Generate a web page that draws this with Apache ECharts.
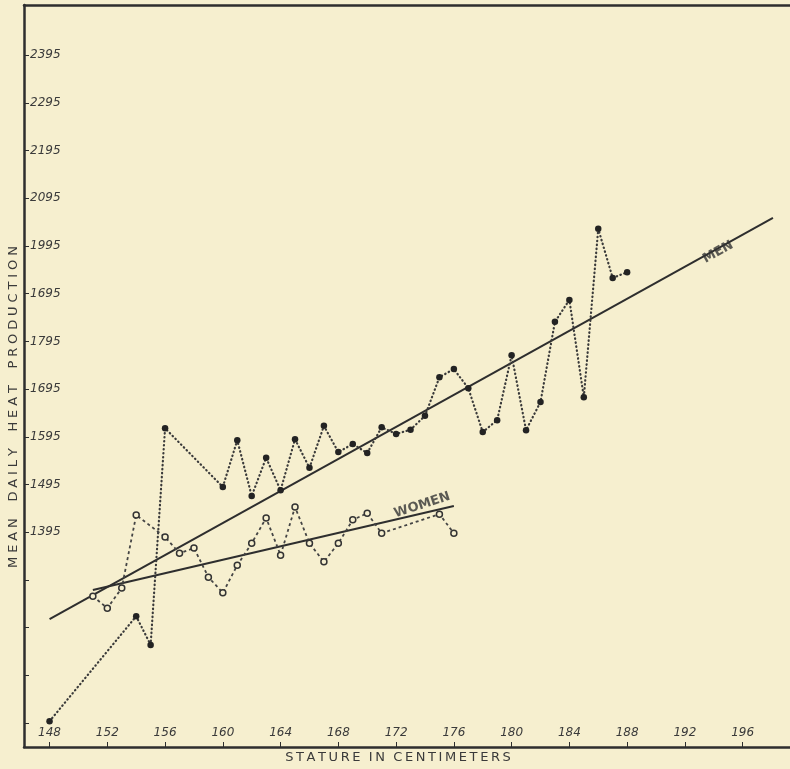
<!DOCTYPE html>
<html>
<head>
<meta charset="utf-8">
<script src="https://cdn.jsdelivr.net/npm/echarts@6/dist/echarts.min.js"></script>
<style>
html,body{margin:0;padding:0;background:#f6efcf;}
#chart{width:790px;height:769px;}
</style>
</head>
<body>
<div id="chart"></div>
<script>
// ---- data ----
const menStature = [148,154,155,156,160,161,162,163,164,165,166,167,168,169,170,171,172,173,174,175,176,177,178,179,180,181,182,183,184,185,186,187,188];
const menHeat    = [999,1219,1159,1613,1490,1588,1471,1551,1483,1590,1530,1618,1563,1580,1561,1615,1601,1610,1639,1720,1737,1697,1605,1630,1766,1609,1668,1836,1882,1678,2031,1928,1940];

const womenStature = [151,152,153,154,156,157,158,159,160,161,162,163,164,165,166,167,168,169,170,171,175,176];
const womenHeat    = [1261,1236,1278,1431,1385,1351,1362,1301,1268,1326,1372,1425,1347,1448,1372,1333,1372,1421,1435,1393,1433,1393];

const menFitStature = [148,198.1];
const menFitHeat    = [1213,2054];
const womenFitStature = [151,176];
const womenFitHeat    = [1274,1450];

const xTickValues = [148,152,156,160,164,168,172,176,180,184,188,192,196];
const yTickValues = [995,1095,1195,1295,1395,1495,1595,1695,1795,1895,1995,2095,2195,2295,2395];
const yLabelValues = [1395,1495,1595,1695,1795,1895,1995,2095,2195,2295,2395];
const yLabelTexts  = ['1395','1495','1595','1695','1795','1695','1995','2095','2195','2295','2395'];

const xTitle = 'STATURE IN CENTIMETERS';
const yTitle = 'MEAN DAILY HEAT PRODUCTION';
const menLabel = 'MEN';
const womenLabel = 'WOMEN';

// ---- helpers ----
const zip = (a, b) => a.map((v, i) => [v, b[i]]);
function spaced(str, gap, wordGap) {
  return str.split(' ').map(w => w.split('').join(gap)).join(wordGap);
}

const ink = '#2e2e2e';
const bg = '#f6efcf';

const chart = echarts.init(document.getElementById('chart'), null, {renderer: 'canvas'});
chart.setOption({
  backgroundColor: bg,
  animation: false,
  grid: {left: 24, right: 0, top: 5, bottom: 22, containLabel: false},
  xAxis: [{
    type: 'value', min: 146.23, max: 199.28,
    axisLine: {show: true, lineStyle: {color: ink, width: 2.5}},
    axisTick: {show: true, inside: true, length: 5, customValues: xTickValues, lineStyle: {color: ink, width: 1}},
    axisLabel: {show: true, inside: true, margin: 8, customValues: xTickValues,
      fontFamily: 'DejaVu Sans', fontStyle: 'italic', fontSize: 12, color: '#3a3a3a'},
    splitLine: {show: false}
  }, {
    type: 'value', position: 'top', min: 146.23, max: 199.28,
    axisLine: {show: true, lineStyle: {color: ink, width: 2.5}},
    axisTick: {show: false}, axisLabel: {show: false}, splitLine: {show: false}
  }],
  yAxis: {
    type: 'value', min: 945, max: 2500,
    axisLine: {show: true, lineStyle: {color: ink, width: 2.5}},
    axisTick: {show: true, inside: true, length: 5, customValues: yTickValues, lineStyle: {color: ink, width: 1}},
    axisLabel: {show: true, inside: true, margin: 6, customValues: yLabelValues,
      formatter: v => yLabelTexts[yLabelValues.indexOf(v)] || '',
      fontFamily: 'DejaVu Sans', fontStyle: 'italic', fontSize: 12, color: '#3a3a3a'},
    splitLine: {show: false}
  },
  graphic: [{
    type: 'text', x: 14, y: 407, rotation: Math.PI / 2,
    style: {text: spaced(yTitle, '\u2009\u200A', '    '), fill: '#3a3a3a',
      font: '13px "DejaVu Sans"', textAlign: 'center', textVerticalAlign: 'middle', align: 'center', verticalAlign: 'middle'}
  }, {
    type: 'text', x: 398, y: 758,
    style: {text: spaced(xTitle, '\u2009', '  '), fill: '#3a3a3a',
      font: '13px "DejaVu Sans"', textAlign: 'center', textVerticalAlign: 'middle', align: 'center', verticalAlign: 'middle'}
  }],
  series: [{
    name: 'Men fit', type: 'line', data: zip(menFitStature, menFitHeat), symbol: 'none',
    lineStyle: {color: ink, width: 2}, z: 2
  }, {
    name: 'Women fit', type: 'line', data: zip(womenFitStature, womenFitHeat), symbol: 'none',
    lineStyle: {color: ink, width: 2}, z: 2
  }, {
    name: 'Men', type: 'line', data: zip(menStature, menHeat),
    symbol: 'circle', symbolSize: 6.5, itemStyle: {color: '#232323'},
    lineStyle: {color: '#3a3a3a', width: 2.2, type: [0.5, 3.5], cap: 'round'}, z: 3
  }, {
    name: 'Women', type: 'line', data: zip(womenStature, womenHeat),
    symbol: 'circle', symbolSize: 6,
    itemStyle: {color: bg, borderColor: '#333', borderWidth: 1.5},
    lineStyle: {color: '#444', width: 1.8, type: [3, 3]}, z: 3
  }, {
    name: 'Labels', type: 'scatter', symbolSize: 0, silent: true, z: 4,
    data: [
      {value: [194.3, 1982], label: {show: true, formatter: menLabel, rotate: 29}},
      {value: [173.8, 1452], label: {show: true, formatter: womenLabel, rotate: 18}}
    ],
    label: {position: 'inside', color: '#333', fontFamily: 'DejaVu Sans', fontSize: 13, fontWeight: 'bold'}
  }]
});
</script>
</body>
</html>
